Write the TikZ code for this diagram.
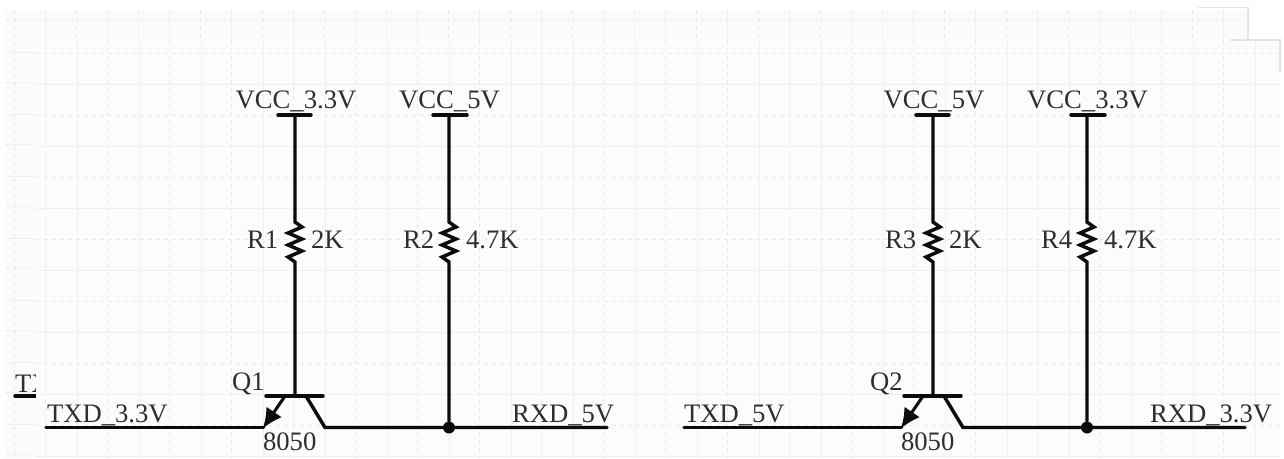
\documentclass[tikz,border=0pt]{standalone}
\usepackage{fontspec}
\setmainfont{Liberation Serif}
\usetikzlibrary{arrows.meta}
\definecolor{panelA}{HTML}{FBFBFB}
\definecolor{panelB}{HTML}{FCFCFC}
\definecolor{gridline}{HTML}{EFEFEF}
\definecolor{dashline}{HTML}{E9E9E9}
\definecolor{edgeline}{HTML}{E4E4E4}
\definecolor{inkline}{HTML}{0C0C0C}
\definecolor{inktext}{HTML}{2E2E2E}
\tikzset{
  wire/.style={line width=2.6pt,draw=inkline,line cap=round},
  thinwire/.style={line width=2.3pt,draw=inkline},
  solidgrid/.style={line width=0.7pt,draw=gridline},
  dashgrid/.style={line width=0.7pt,draw=dashline,dash pattern=on 3pt off 3pt},
  lbl/.style={anchor=base west,inner sep=0pt,outer sep=0pt,font=\fontsize{20}{23}\selectfont,text=inktext},
  railtext/.style={lbl,anchor=base},
  dot/.style={circle,fill=inkline,draw=none,minimum size=9pt,inner sep=0pt},
}
% #1 prefix, #2 x-shift, #3 left rail label, #4 right rail label, #5 R left, #6 R right, #7 left R val,
% #8 right R val, #9 Q name
\newcommand{\levelstage}[9]{%
\begin{scope}[shift={(#2,0)},name prefix=#1]
  \coordinate (vl) at (295,115);
  \coordinate (vr) at (449,115);
  \coordinate (rla) at (295,222);
  \coordinate (rlb) at (295,262);
  \coordinate (rra) at (449,222);
  \coordinate (rrb) at (449,262);
  \coordinate (cb) at (295,396);
  \coordinate (bl) at (266,396);
  \coordinate (br) at (323,396);
  \coordinate (ee) at (285,396);
  \coordinate (et) at (263.5,427.5);
  \coordinate (ce) at (306,396);
  \coordinate (cw) at (325,427.5);
  \coordinate (wl) at (46,427.5);
  \coordinate (wr) at (607,427.5);
  \node[dot] (j) at (449,427.5) {};
  \draw[wire] (278,115) -- (vl) -- (311,115);
  \draw[wire] (433,115) -- (vr) -- (467,115);
  \draw[wire] (vl) -- (rla) -- ++(7,5) -- ++(-14,6) -- ++(14,6) -- ++(-14,6) -- ++(14,6) -- ++(-14,6) -- ++(7,5) -- (rlb) -- (cb);
  \draw[wire] (vr) -- (rra) -- ++(7,5) -- ++(-14,6) -- ++(14,6) -- ++(-14,6) -- ++(14,6) -- ++(-14,6) -- ++(7,5) -- (rrb) -- (j);
  \draw[wire] (bl) -- (br);
  \draw[wire] (wl) -- (et);
  \draw[thinwire,-{Latex[length=15pt,width=14pt]},shorten >=-1pt] (ee) -- (et);
  \draw[wire] (ce) -- (cw) -- (wr);
  \draw[wire] (cw) -- (j);
  \node[railtext] (l1) at (296,108) {#3};
  \node[railtext] (l2) at (449.5,108) {#4};
  \node[lbl] (r1) at (247,248) {#5};
  \node[lbl] (r2) at (403,248) {#6};
  \node[lbl] (v1) at (311,248) {#7};
  \node[lbl] (v2) at (466,248) {#8};
  \node[lbl] (q) at (232,390) {#9};
  \node[lbl] (t) at (263,450) {8050};
\end{scope}}
\begin{document}
\begin{tikzpicture}[x=0.75pt,y=-0.75pt]
\useasboundingbox (0,0) rectangle (1284,458);
\fill[white] (0,0) rectangle (1284,458);
% rear sheet
\fill[panelA] (5,10) rectangle (1248,458);
\draw[edgeline,line width=0.9pt] (1198,7.5) -- (1248,7.5) -- (1248,40);
\foreach \g in {45,107,...,1240} \draw[solidgrid] (\g,10) -- (\g,458);
\foreach \g in {14,76,...,1240} \draw[dashgrid] (\g,10) -- (\g,458);
\foreach \g in {52,114,...,458} \draw[solidgrid] (5,\g) -- (1248,\g);
\foreach \g in {20,82,...,458} \draw[dashgrid] (5,\g) -- (1248,\g);
% clipped text of the rear sheet
\node[lbl] (tx) at (15,392) {TX};
\coordinate (txa) at (15,396);
\coordinate (txb) at (36,396);
\draw[wire] (txa) -- (txb);
% front sheet
\fill[panelB] (36,40) rectangle (1280,458);
\draw[edgeline,line width=0.9pt] (1230,40) -- (1280,40) -- (1280,72);
\foreach \g in {77,139,...,1280} \draw[solidgrid] (\g,40) -- (\g,458);
\foreach \g in {45,107,...,1280} \draw[dashgrid] (\g,40) -- (\g,458);
\foreach \g in {84,146,...,458} \draw[solidgrid] (36,\g) -- (1280,\g);
\foreach \g in {53,115,...,458} \draw[dashgrid] (36,\g) -- (1280,\g);
% circuits
\levelstage{a}{0}{VCC\_3.3V}{VCC\_5V}{R1}{R2}{2K}{4.7K}{Q1}
\levelstage{b}{638}{VCC\_5V}{VCC\_3.3V}{R3}{R4}{2K}{4.7K}{Q2}
\node[lbl] (atx) at (47,422) {TXD\_3.3V};
\node[lbl] (arx) at (512,422) {RXD\_5V};
\node[lbl] (btx) at (684,422) {TXD\_5V};
\node[lbl] (brx) at (1150,422) {RXD\_3.3V};
\end{tikzpicture}
\end{document}
